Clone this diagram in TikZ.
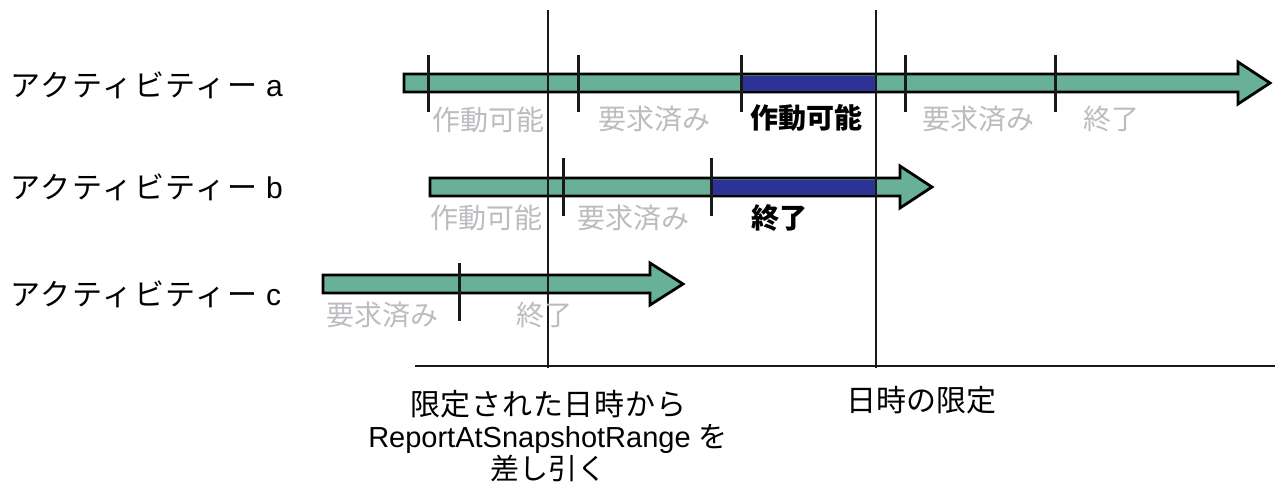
\documentclass[tikz,border=0pt]{standalone}
\usepackage{fontspec}
\setmainfont{Liberation Sans}
\newfontfamily\jp{Noto Sans CJK JP}
\newfontfamily\jpw[LetterSpace=2.5]{Noto Sans CJK JP}
\newfontfamily\jpww[LetterSpace=6]{Noto Sans CJK JP}
\definecolor{bargreen}{RGB}{104,176,152}
\definecolor{barblue}{RGB}{44,50,150}
\definecolor{txtgray}{RGB}{188,188,192}
\begin{document}
\begin{tikzpicture}[x=1pt,y=-1pt,
  bar/.style={fill=bargreen,draw=black,line width=2.8pt,line join=miter},
  hilite/.style={fill=barblue,draw=none},
  tick/.style={draw=black!90,line width=3pt},
  vline/.style={draw=black!90,line width=2.3pt},
  actlabel/.style={anchor=west,inner sep=0pt,font=\fontsize{30}{34}\selectfont},
  statelbl/.style={inner sep=0pt,text=txtgray,font=\jp\fontsize{28}{32}\selectfont},
  statebold/.style={inner sep=0pt,text=black,font=\jp\bfseries\fontsize{28}{32}\selectfont},
  bottomlbl/.style={inner sep=0pt,align=center,font=\fontsize{29}{32}\selectfont}]
\useasboundingbox (0,0) rectangle (1275,482);
% activity labels
\node[actlabel] (la) at (10,85) {{\jpww アクティビティー}\ a};
\node[actlabel] (lb) at (10,187) {{\jpww アクティビティー}\ b};
\node[actlabel] (lc) at (10,294) {{\jpww アクティビティー}\ c};
% bars
\draw[bar] (404,74) -- (1238,74) -- (1238,62) -- (1270,83) -- (1238,104) -- (1238,92) -- (404,92) -- cycle;
\fill[hilite] (741,75.5) rectangle (876,90.5);
\draw[bar] (430,178) -- (900,178) -- (900,166) -- (932,187) -- (900,208) -- (900,196) -- (430,196) -- cycle;
\fill[hilite] (711,179.5) rectangle (876,194.5);
\draw[bar] (323,275) -- (650,275) -- (650,263) -- (683,284) -- (650,305) -- (650,293) -- (323,293) -- cycle;
% ticks
\foreach \x in {428,578,741,905,1055} \draw[tick] (\x,55) -- (\x,112);
\foreach \x in {563,711} \draw[tick] (\x,158) -- (\x,216);
\draw[tick] (459,263) -- (459,321);
% vertical lines and axis
\coordinate (v1t) at (548,10); \coordinate (v1b) at (548,368);
\coordinate (v2t) at (876,10); \coordinate (v2b) at (876,368);
\coordinate (axl) at (415,366); \coordinate (axr) at (1275,366);
\draw[vline] (v1t) -- (v1b);
\draw[vline] (v2t) -- (v2b);
\draw[vline] (axl) -- (axr);
% state labels row a
\node[statelbl,anchor=west] (a1) at (432,120) {作動可能};
\node[statelbl] (a2) at (654,119) {要求済み};
\node[statebold] (a3) at (806,118) {作動可能};
\node[statelbl] (a4) at (978,119) {要求済み};
\node[statelbl] (a5) at (1111,119) {終了};
% row b
\node[statelbl,anchor=west] (b1) at (430,218) {作動可能};
\node[statelbl] (b2) at (633,218) {要求済み};
\node[statebold] (b3) at (779,218) {終了};
% row c
\node[statelbl] (c1) at (382,315) {要求済み};
\node[statelbl] (c2) at (544,315) {終了};
% bottom labels
\node[bottomlbl] (sub) at (548,436) {{\jpw\fontsize{30}{32}\selectfont 限定された日時から}\\ReportAtSnapshotRange {\jp を}\\{\jp 差し引く}};
\node[bottomlbl,font=\jp\fontsize{30}{34}\selectfont] (lim) at (921,400) {日時の限定};
\end{tikzpicture}
\end{document}
